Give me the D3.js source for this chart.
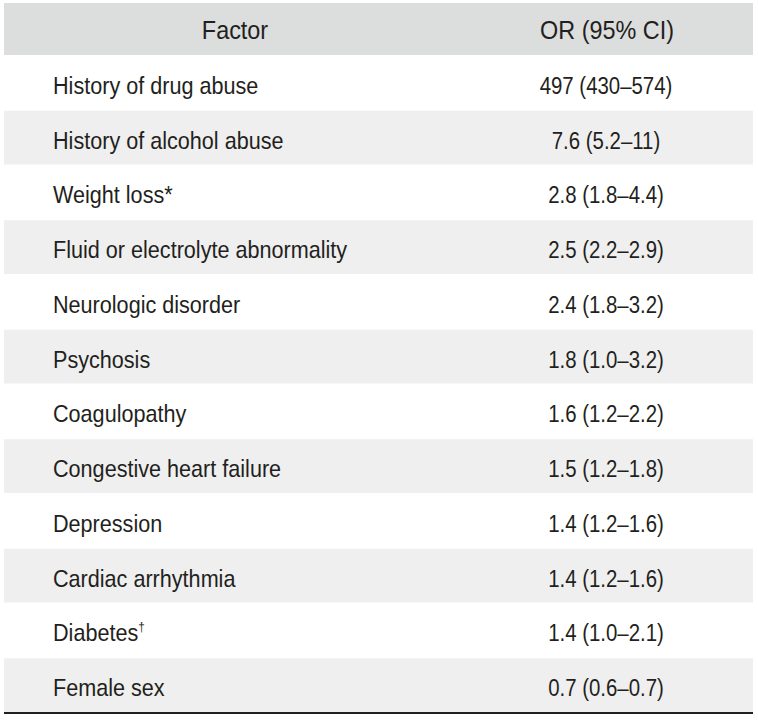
<!DOCTYPE html>
<html>
<head>
<meta charset="utf-8">
<script src="https://cdn.jsdelivr.net/npm/d3@7.9.0/dist/d3.min.js"></script>
<style>
  html, body { margin: 0; padding: 0; background: #fff; }
  svg text { font-family: "Liberation Sans", Arial, sans-serif; fill: #231f20; }
</style>
</head>
<body>
<svg id="table" width="758" height="720"></svg>
<script>
// table content
const headers = ["Factor", "OR (95% CI)"];
const factors = [
  "History of drug abuse",
  "History of alcohol abuse",
  "Weight loss*",
  "Fluid or electrolyte abnormality",
  "Neurologic disorder",
  "Psychosis",
  "Coagulopathy",
  "Congestive heart failure",
  "Depression",
  "Cardiac arrhythmia",
  "Diabetes\u2020",
  "Female sex"
];
const oddsRatios = ["497", "7.6", "2.8", "2.5", "2.4", "1.8", "1.6", "1.5", "1.4", "1.4", "1.4", "0.7"];
const ciLower = ["430", "5.2", "1.8", "2.2", "1.8", "1.0", "1.2", "1.2", "1.2", "1.2", "1.0", "0.6"];
const ciUpper = ["574", "11", "4.4", "2.9", "3.2", "3.2", "2.2", "1.8", "1.6", "1.6", "2.1", "0.7"];

const svg = d3.select("#table");
const left = 4, right = 753;
const headerTop = 3, headerBottom = 55, tableBottom = 712;

const y = d3.scaleBand()
  .domain(d3.range(factors.length))
  .range([headerBottom, tableBottom]);

const col = d3.scalePoint().domain(headers).range([235, 607]);

// condensed look: squeeze glyphs horizontally
const place = (x, yy, sx) => `translate(${x},${yy}) scale(${sx},1)`;

// header
svg.append("rect")
  .attr("x", left).attr("y", headerTop)
  .attr("width", right - left).attr("height", headerBottom - headerTop)
  .attr("fill", "#dcdddd");

svg.selectAll("text.head")
  .data(headers)
  .join("text")
  .attr("class", "head")
  .attr("transform", d => place(col(d), headerTop + 36, 0.9))
  .attr("text-anchor", "middle")
  .attr("font-size", 26)
  .text(d => d);

// zebra rows
svg.selectAll("rect.row")
  .data(d3.range(factors.length).filter(i => i % 2 === 1))
  .join("rect")
  .attr("class", "row")
  .attr("x", left)
  .attr("y", i => y(i) + 1)
  .attr("width", right - left)
  .attr("height", y.bandwidth() - 1)
  .attr("fill", "#efefef");

const rows = svg.selectAll("g.r")
  .data(factors.map((f, i) => ({ f, i })))
  .join("g")
  .attr("class", "r")
  .attr("transform", d => `translate(0,${y(d.i) + y.bandwidth() * 0.71})`);

rows.append("text")
  .attr("transform", place(53, 0, 0.9))
  .attr("font-size", 24)
  .each(function (d) {
    const t = d3.select(this);
    if (d.f.endsWith("\u2020")) {
      t.append("tspan").text(d.f.slice(0, -1));
      t.append("tspan").attr("font-size", 13).attr("dy", -10).text("\u2020");
    } else {
      t.text(d.f);
    }
  });

rows.append("text")
  .attr("transform", place(col(headers[1]) - 1, 0, 0.85))
  .attr("text-anchor", "middle")
  .attr("font-size", 24)
  .text(d => `${oddsRatios[d.i]} (${ciLower[d.i]}\u2013${ciUpper[d.i]})`);

// bottom rule
svg.append("line")
  .attr("x1", left).attr("x2", right)
  .attr("y1", tableBottom + 1).attr("y2", tableBottom + 1)
  .attr("stroke", "#231f20")
  .attr("stroke-width", 2);
</script>
</body>
</html>
